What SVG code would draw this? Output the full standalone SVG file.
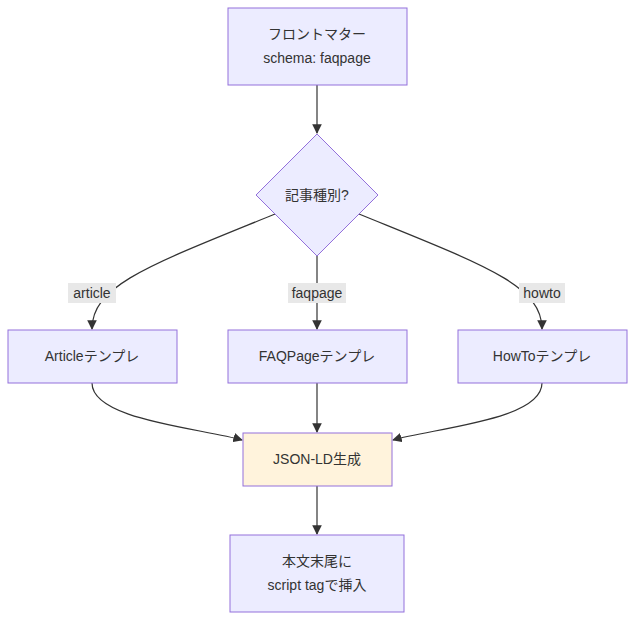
<svg xmlns="http://www.w3.org/2000/svg" width="642" height="628" viewBox="0 0 642 628">
<defs>
<marker id="arr" viewBox="0 0 10 10" refX="9" refY="5" markerWidth="8" markerHeight="8" orient="auto"><path d="M0,0 L10,5 L0,10 z" fill="#333"/></marker>
<style>
.n{fill:#ececff;stroke:#9370db;stroke-width:1}
.o{fill:#fff3dc;stroke:#9370db;stroke-width:1}
.t{font-family:"Liberation Sans","Noto Sans CJK JP",sans-serif;font-size:14px;fill:#333;text-anchor:middle;dominant-baseline:central}
.e{fill:none;stroke:#333;stroke-width:1.2;marker-end:url(#arr)}
.lb{fill:#e8e8e8}
</style>
</defs>
<rect width="642" height="628" fill="#fff"/>
<g id="edges">
<path class="e" d="M317,85 L317,133"/>
<path class="e" d="M275,214 C150,265 92,285 92,329"/>
<path class="e" d="M317,256 L317,329"/>
<path class="e" d="M359,214 C484,265 542,285 542,329"/>
<path class="e" d="M92,383 C92,420 200,428 242,440"/>
<path class="e" d="M317,383 L317,432"/>
<path class="e" d="M542,383 C542,420 435,428 393,440"/>
<path class="e" d="M317,486 L317,534"/>
<rect class="lb" x="68" y="283" width="48" height="20"/><text class="t" x="92" y="293">article</text>
<rect class="lb" x="288" y="283" width="58" height="20"/><text class="t" x="317" y="293">faqpage</text>
<rect class="lb" x="519" y="283" width="46" height="20"/><text class="t" x="542" y="293">howto</text>
</g>
<g id="front"><rect class="n" x="228" y="8" width="179" height="77"/><text class="t" x="317" y="34">フロントマター</text><text class="t" x="317" y="58">schema: faqpage</text></g>
<g id="kind"><polygon class="n" points="317,134 378,195 317,256 256,195"/><text class="t" x="317" y="195">記事種別?</text></g>
<g id="article"><rect class="n" x="8" y="330" width="169" height="53"/><text class="t" x="92" y="356">Articleテンプレ</text></g>
<g id="faq"><rect class="n" x="228" y="330" width="179" height="53"/><text class="t" x="317" y="356">FAQPageテンプレ</text></g>
<g id="howto"><rect class="n" x="458" y="330" width="169" height="53"/><text class="t" x="542" y="356">HowToテンプレ</text></g>
<g id="jsonld"><rect class="o" x="243" y="433" width="149" height="53"/><text class="t" x="317" y="459">JSON-LD生成</text></g>
<g id="insert"><rect class="n" x="230" y="535" width="174" height="77"/><text class="t" x="317" y="561">本文末尾に</text><text class="t" x="317" y="585">script tagで挿入</text></g>
</svg>
